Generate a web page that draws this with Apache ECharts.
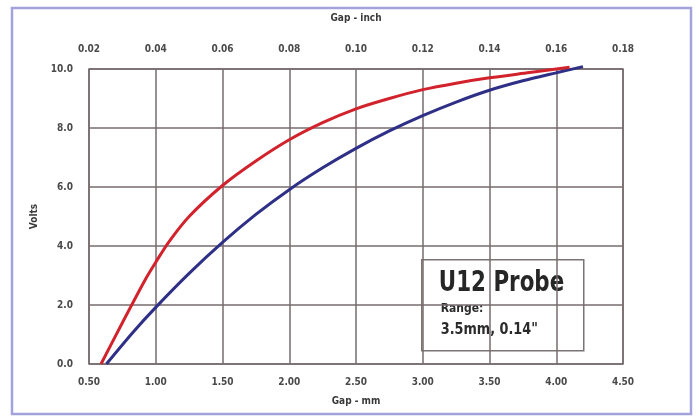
<!DOCTYPE html>
<html>
<head>
<meta charset="utf-8">
<title>U12 Probe – Volts vs Gap</title>
<script src="https://cdn.jsdelivr.net/npm/echarts@6/dist/echarts.min.js"></script>
<style>
  html, body { margin: 0; padding: 0; background: #ffffff; }
  #chart { width: 699px; height: 417px; }
</style>
</head>
<body>
<div id="chart"></div>
<script>
// Probe output curves: gap in millimetres against output in volts
const redGapMm  = [0.59, 0.75, 0.92, 1.00, 1.10, 1.25, 1.50, 1.75, 2.00, 2.25, 2.50, 2.75, 3.00, 3.25, 3.50, 3.80, 4.10];
const redVolts  = [0.00, 1.40, 2.85, 3.45, 4.15, 5.00, 6.05, 6.88, 7.60, 8.18, 8.65, 9.00, 9.30, 9.52, 9.70, 9.88, 10.06];
const blueGapMm = [0.63, 0.83, 1.00, 1.25, 1.50, 1.75, 2.00, 2.25, 2.50, 2.75, 3.00, 3.25, 3.50, 3.75, 4.00, 4.20];
const blueVolts = [0.00, 1.08, 1.92, 3.07, 4.12, 5.07, 5.91, 6.65, 7.31, 7.90, 8.42, 8.88, 9.28, 9.60, 9.87, 10.08];

// Axis ranges and tick steps
const mmAxis   = { min: 0.5,  max: 4.5,  step: 0.5 };
const inchAxis = { min: 0.02, max: 0.18, step: 0.02 };
const voltAxis = { min: 0,    max: 10,   step: 2 };

const probeTitle = 'U12 Probe';
const probeRangeLabel = 'Range:';
const probeRangeValue = '3.5mm, 0.14"';

const FONT = "'Liberation Sans Narrow', 'DejaVu Sans Condensed', 'Liberation Sans', sans-serif";
const GRID_COLOR = '#766b6d';
const LABEL_COLOR = '#4a4a4a';

const pairs = (xs, ys) => xs.map((x, i) => [x, ys[i]]);

const chart = echarts.init(document.getElementById('chart'), null, { renderer: 'canvas' });

const axisLabelStyle = { color: LABEL_COLOR, fontFamily: FONT, fontWeight: 'bold', fontSize: 10 };
const axisNameStyle  = { color: '#3a3a3a', fontFamily: FONT, fontWeight: 'bold', fontSize: 10 };

chart.setOption({
  animation: false,
  backgroundColor: '#ffffff',
  grid: {
    left: 89, right: 76, top: 69, bottom: 53,
    show: true, borderColor: GRID_COLOR, borderWidth: 1.5, backgroundColor: 'transparent'
  },
  xAxis: [
    {
      type: 'value', position: 'bottom',
      min: mmAxis.min, max: mmAxis.max, interval: mmAxis.step,
      name: 'Gap - mm', nameLocation: 'middle', nameGap: 32, nameTextStyle: axisNameStyle,
      axisLine: { show: false }, axisTick: { show: false },
      axisLabel: Object.assign({ margin: 13, formatter: v => v.toFixed(2) }, axisLabelStyle),
      splitLine: { show: true, lineStyle: { color: GRID_COLOR, width: 1.5 } }
    },
    {
      type: 'value', position: 'top',
      min: inchAxis.min, max: inchAxis.max, interval: inchAxis.step,
      name: 'Gap - inch', nameLocation: 'middle', nameGap: 46, nameTextStyle: axisNameStyle,
      axisLine: { show: false }, axisTick: { show: false },
      axisLabel: Object.assign({ margin: 15, formatter: v => v.toFixed(2) }, axisLabelStyle),
      splitLine: { show: false }
    }
  ],
  yAxis: {
    type: 'value',
    min: voltAxis.min, max: voltAxis.max, interval: voltAxis.step,
    name: 'Volts', nameLocation: 'middle', nameGap: 49, nameRotate: 90, nameTextStyle: axisNameStyle,
    axisLine: { show: false }, axisTick: { show: false },
    axisLabel: Object.assign({ margin: 16, formatter: v => v.toFixed(1) }, axisLabelStyle),
    splitLine: { show: true, lineStyle: { color: GRID_COLOR, width: 1.5 } }
  },
  series: [
    {
      type: 'line', xAxisIndex: 0, data: pairs(blueGapMm, blueVolts),
      smooth: 0.3, showSymbol: false, symbol: 'none', clip: false,
      lineStyle: { color: '#2e2f86', width: 3 }
    },
    {
      type: 'line', xAxisIndex: 0, data: pairs(redGapMm, redVolts),
      smooth: 0.3, showSymbol: false, symbol: 'none', clip: false,
      lineStyle: { color: '#d2232d', width: 3 }
    }
  ],
  graphic: [
    {
      // outer frame around the whole figure
      type: 'rect', silent: true, z: 100,
      shape: { x: 12, y: 8, width: 679, height: 406 },
      style: { fill: 'none', stroke: '#a3a3dc', lineWidth: 2.5 }
    },
    {
      type: 'group', left: 421, top: 259, z: 50,
      children: [
        {
          type: 'rect',
          shape: { x: 0, y: 0, width: 162, height: 91 },
          style: { fill: '#ffffff', stroke: '#7a7475', lineWidth: 1.5 }
        },
        {
          type: 'text', x: 17, y: 10, scaleX: 0.85,
          style: { text: probeTitle, fill: '#262626', font: "bold 28px " + FONT }
        },
        {
          type: 'text', x: 19, y: 42, scaleX: 0.92,
          style: { text: probeRangeLabel, fill: '#2b2b2b', font: "bold 13px " + FONT }
        },
        {
          type: 'text', x: 19, y: 63, scaleX: 0.95,
          style: { text: probeRangeValue, fill: '#2b2b2b', font: "bold 15px " + FONT }
        }
      ]
    }
  ]
});
</script>
</body>
</html>
